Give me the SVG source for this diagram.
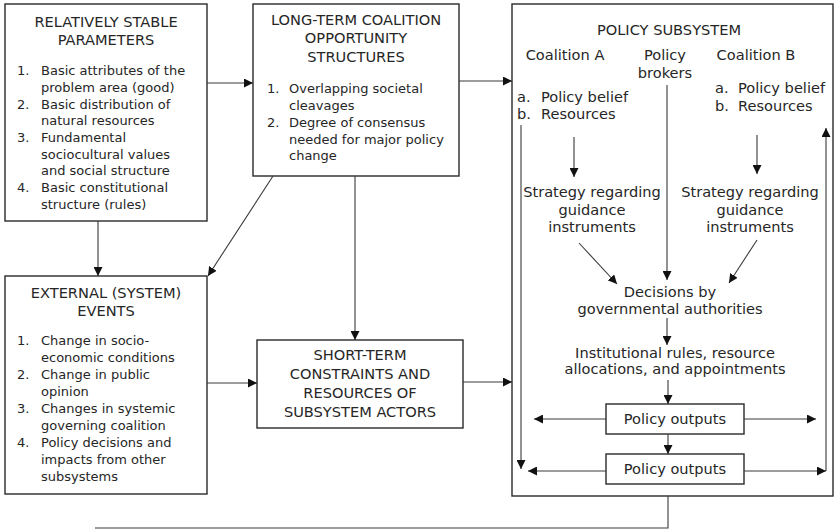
<svg xmlns="http://www.w3.org/2000/svg" width="835" height="531" viewBox="0 0 835 531">
<style>
.box{fill:#fff;stroke:#2a2a2a;stroke-width:1.4}
.t{font-family:"DejaVu Sans","Verdana",sans-serif;font-size:13px;fill:#262626}
.b{font-size:14.6px}
.c{text-anchor:middle}
.ln{fill:none;stroke:#3a3a3a;stroke-width:1.1}
.ar{marker-end:url(#ah)}
</style>
<defs>
<marker id="ah" viewBox="0 0 10 10" refX="10" refY="5" markerWidth="9" markerHeight="9" markerUnits="userSpaceOnUse" orient="auto">
<path d="M0,0 L10,5 L0,10 z" fill="#111"/>
</marker>
</defs>
<rect width="835" height="531" fill="#fff"/>

<g id="stable">
<rect class="box" x="5" y="4" width="202" height="217"/>
<text class="t b c" x="106" y="27">RELATIVELY STABLE</text>
<text class="t b c" x="106" y="44.5">PARAMETERS</text>
<text class="t" x="17" y="75">1.</text><text class="t" x="41" y="75">Basic attributes of the</text>
<text class="t" x="41" y="92">problem area (good)</text>
<text class="t" x="17" y="108.5">2.</text><text class="t" x="41" y="108.5">Basic distribution of</text>
<text class="t" x="41" y="125">natural resources</text>
<text class="t" x="17" y="142">3.</text><text class="t" x="41" y="142">Fundamental</text>
<text class="t" x="41" y="158.5">sociocultural values</text>
<text class="t" x="41" y="175">and social structure</text>
<text class="t" x="17" y="192">4.</text><text class="t" x="41" y="192">Basic constitutional</text>
<text class="t" x="41" y="208.5">structure (rules)</text>
</g>

<g id="longterm">
<rect class="box" x="253" y="4" width="206" height="172"/>
<text class="t b c" x="356" y="25">LONG-TERM COALITION</text>
<text class="t b c" x="356" y="43">OPPORTUNITY</text>
<text class="t b c" x="356" y="62">STRUCTURES</text>
<text class="t" x="267" y="93">1.</text><text class="t" x="289" y="93">Overlapping societal</text>
<text class="t" x="289" y="110">cleavages</text>
<text class="t" x="267" y="127">2.</text><text class="t" x="289" y="127">Degree of consensus</text>
<text class="t" x="289" y="143.5">needed for major policy</text>
<text class="t" x="289" y="160">change</text>
</g>

<g id="external">
<rect class="box" x="5" y="276" width="202" height="218"/>
<text class="t b c" x="106" y="298">EXTERNAL (SYSTEM)</text>
<text class="t b c" x="106" y="316">EVENTS</text>
<text class="t" x="17" y="345">1.</text><text class="t" x="41" y="345">Change in socio-</text>
<text class="t" x="41" y="362">economic conditions</text>
<text class="t" x="17" y="379">2.</text><text class="t" x="41" y="379">Change in public</text>
<text class="t" x="41" y="396">opinion</text>
<text class="t" x="17" y="413">3.</text><text class="t" x="41" y="413">Changes in systemic</text>
<text class="t" x="41" y="430">governing coalition</text>
<text class="t" x="17" y="447">4.</text><text class="t" x="41" y="447">Policy decisions and</text>
<text class="t" x="41" y="464">impacts from other</text>
<text class="t" x="41" y="481">subsystems</text>
</g>

<g id="shortterm">
<rect class="box" x="257" y="340" width="206" height="88"/>
<text class="t b c" x="360" y="360">SHORT-TERM</text>
<text class="t b c" x="360" y="379">CONSTRAINTS AND</text>
<text class="t b c" x="360" y="398">RESOURCES OF</text>
<text class="t b c" x="360" y="417">SUBSYSTEM ACTORS</text>
</g>

<g id="subsystem">
<rect class="box" x="512" y="4" width="321" height="492"/>
<text class="t b c" x="669" y="35">POLICY SUBSYSTEM</text>
<text class="t b c" x="565" y="60">Coalition A</text>
<text class="t b c" x="665" y="60">Policy</text>
<text class="t b c" x="665" y="78">brokers</text>
<text class="t b c" x="756" y="60">Coalition B</text>
<text class="t b" x="517" y="102">a.</text><text class="t b" x="541" y="102">Policy belief</text>
<text class="t b" x="517" y="119">b.</text><text class="t b" x="541" y="119">Resources</text>
<text class="t b" x="715" y="93">a.</text><text class="t b" x="738" y="93">Policy belief</text>
<text class="t b" x="715" y="111">b.</text><text class="t b" x="738" y="111">Resources</text>
<text class="t b c" x="592" y="197">Strategy regarding</text>
<text class="t b c" x="592" y="215">guidance</text>
<text class="t b c" x="592" y="232">instruments</text>
<text class="t b c" x="750" y="197">Strategy regarding</text>
<text class="t b c" x="750" y="215">guidance</text>
<text class="t b c" x="750" y="232">instruments</text>
<text class="t b c" x="670" y="297">Decisions by</text>
<text class="t b c" x="670" y="314">governmental authorities</text>
<text class="t b c" x="675" y="358">Institutional rules, resource</text>
<text class="t b c" x="675" y="374">allocations, and appointments</text>
</g>

<g id="outputs1">
<rect class="box" x="606" y="404" width="138" height="30"/>
<text class="t b c" x="675" y="424">Policy outputs</text>
</g>
<g id="outputs2">
<rect class="box" x="606" y="454" width="138" height="30"/>
<text class="t b c" x="675" y="474">Policy outputs</text>
</g>

<g id="connectors">
<line class="ln ar" x1="207" y1="83" x2="253" y2="83"/>
<line class="ln ar" x1="459" y1="81" x2="512" y2="81"/>
<line class="ln ar" x1="98" y1="221" x2="98" y2="276"/>
<line class="ln ar" x1="273" y1="176" x2="208" y2="276"/>
<line class="ln ar" x1="355" y1="176" x2="355" y2="340"/>
<line class="ln ar" x1="207" y1="383" x2="257" y2="383"/>
<line class="ln ar" x1="463" y1="382" x2="512" y2="382"/>
<line class="ln ar" x1="521" y1="125" x2="521" y2="469"/>
<line class="ln ar" x1="826" y1="471" x2="826" y2="128"/>
<line class="ln ar" x1="574" y1="137" x2="574" y2="177"/>
<line class="ln ar" x1="757" y1="135" x2="757" y2="174"/>
<line class="ln ar" x1="667" y1="85" x2="667" y2="280"/>
<line class="ln ar" x1="579" y1="243" x2="617" y2="284"/>
<line class="ln ar" x1="757" y1="240" x2="729" y2="283"/>
<line class="ln ar" x1="667" y1="318" x2="667" y2="345"/>
<line class="ln ar" x1="668" y1="380" x2="668" y2="404"/>
<line class="ln ar" x1="606" y1="419" x2="534" y2="419"/>
<line class="ln ar" x1="744" y1="419" x2="816" y2="419"/>
<line class="ln ar" x1="668" y1="434" x2="668" y2="454"/>
<line class="ln ar" x1="606" y1="471" x2="528" y2="471"/>
<line class="ln ar" x1="744" y1="471" x2="826" y2="471"/>
<polyline class="ln" points="668,496 668,528 95,528"/>
</g>
</svg>
